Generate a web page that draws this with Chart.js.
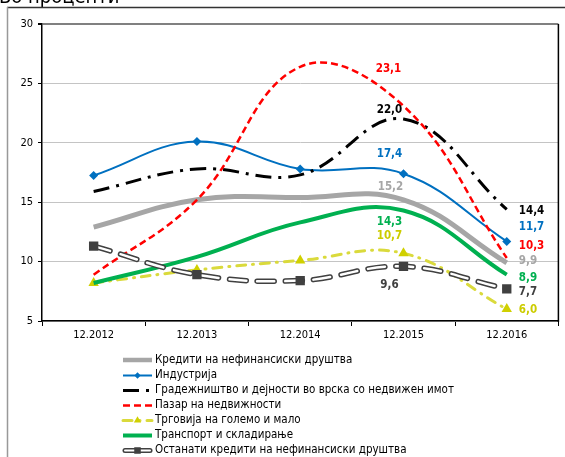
<!DOCTYPE html>
<html>
<head>
<meta charset="utf-8">
<script src="https://cdn.jsdelivr.net/npm/chart.js@4/dist/chart.umd.min.js"></script>
<style>
html,body{margin:0;padding:0;background:#fff;}
#c{display:block;}
</style>
</head>
<body>
<canvas id="c" width="565" height="457"></canvas>
<script>
// ---- data ----
const categories = ['12.2012', '12.2013', '12.2014', '12.2015', '12.2016'];
const seriesNames = [
  'Кредити на нефинансиски друштва',
  'Индустрија',
  'Градежништво и дејности во врска со недвижен имот',
  'Пазар на недвижности',
  'Трговија на големо и мало',
  'Транспорт и складирање',
  'Останати кредити на нефинансиски друштва'
];
const kreditiNefin = [12.9, 15.2, 15.4, 15.2, 9.9];
const industrija = [17.25, 20.1, 17.8, 17.4, 11.7];
const gradeznistvo = [15.9, 17.8, 17.3, 22.0, 14.4];
const pazar = [8.9, 15.2, 26.4, 23.1, 10.3];
const trgovija = [8.2, 9.3, 10.1, 10.7, 6.0];
const transport = [8.2, 10.4, 13.3, 14.3, 8.9];
const ostanati = [11.3, 8.9, 8.4, 9.6, 7.7];
const yMin = 5, yMax = 30, yStep = 5;
const titleText = 'Во проценти';

const FONT = "'DejaVu Sans Condensed', 'DejaVu Sans', sans-serif";

// styles
const styles = [
  {color:'#a6a6a6', width:5, dash:[], cap:'butt', point:false, labelColor:'#a6a6a6'},
  {color:'#0070c0', width:2, dash:[], cap:'butt', point:'rectRot', pr:4.5, pc:'#0070c0', labelColor:'#0070c0'},
  {color:'#000000', width:3, dash:[16,7,3,7], cap:'butt', point:false, labelColor:'#000000'},
  {color:'#ff0000', width:2.5, dash:[7,4], cap:'butt', point:false, labelColor:'#ff0000'},
  {color:'#dada3c', width:3, dash:[9,7,1,7], cap:'round', point:'triangle', pr:6, pc:'#d0d000', labelColor:'#cccc00'},
  {color:'#00b050', width:4, dash:[], cap:'butt', point:false, labelColor:'#00b050'},
  {color:'#404040', width:5.5, dash:[17,11], cap:'round', point:'rect', pr:6.6, pc:'#404040', labelColor:'#404040', doubled:true}
];
const seriesData = [kreditiNefin, industrija, gradeznistvo, pazar, trgovija, transport, ostanati];

// label offsets (index 3 = 2015 centered; index 4 = 2016 left aligned)
const labelOffsets = [
  {i3:[-13,-13], i4:[12,-2]},
  {i3:[-14,-20], i4:[12,-14]},
  {i3:[-14,-9],  i4:[12,2]},
  {i3:[-15,-37], i4:[12,-12]},
  {i3:[-14,-17], i4:[12,1]},
  {i3:[-14,11],  i4:[12,3]},
  {i3:[-14,19],  i4:[12,3.5]}
];

const datasets = [];
seriesData.forEach((d, i) => {
  const s = styles[i];
  if (s.doubled) {
    datasets.push({
      label: seriesNames[i] + ' (outline)', data: d, borderColor: s.color, borderWidth: s.width,
      borderDash: s.dash, borderCapStyle: s.cap, pointRadius: 0, tension: 0.4, fill: false,
      order: 20 - 2*i, seriesIndex: i, outline: true
    });
    datasets.push({
      label: seriesNames[i], data: d, borderColor: '#ffffff', borderWidth: 2.5,
      borderDash: s.dash, borderCapStyle: s.cap, pointStyle: s.point, pointRadius: s.pr,
      pointBackgroundColor: s.pc, pointBorderColor: s.pc, pointBorderWidth: 0,
      tension: 0.4, fill: false, order: 19 - 2*i, seriesIndex: i, labelled: true
    });
  } else {
    datasets.push({
      label: seriesNames[i], data: d, borderColor: s.color, borderWidth: s.width,
      borderDash: s.dash, borderCapStyle: s.cap,
      pointStyle: s.point || 'circle', pointRadius: s.point ? s.pr : 0,
      pointBackgroundColor: s.pc || s.color, pointBorderColor: s.pc || s.color, pointBorderWidth: 0,
      tension: 0.4, fill: false, order: 20 - 2*i, seriesIndex: i, labelled: true
    });
  }
});

const fmt = v => v.toFixed(1).replace('.', ',');

const decorPlugin = {
  id: 'decor',
  beforeDraw(chart) {
    const ctx = chart.ctx;
    ctx.save();
    ctx.fillStyle = '#fff';
    ctx.fillRect(0, 0, chart.width, chart.height);
    // cropped title
    ctx.fillStyle = '#000';
    ctx.font = '20px ' + FONT;
    ctx.textBaseline = 'alphabetic';
    ctx.textAlign = 'left';
    ctx.fillText(titleText, -1, 3);
    // outer frame
    ctx.strokeStyle = '#333';
    ctx.lineWidth = 1.5;
    ctx.beginPath(); ctx.moveTo(7, 7.5); ctx.lineTo(565, 7.5); ctx.stroke();
    ctx.strokeStyle = '#999';
    ctx.beginPath(); ctx.moveTo(7.5, 7); ctx.lineTo(7.5, 457); ctx.stroke();
    ctx.restore();
  },
  afterDraw(chart) {
    const ctx = chart.ctx;
    const a = chart.chartArea;
    ctx.save();
    ctx.strokeStyle = '#000';
    ctx.lineWidth = 1.5;
    ctx.beginPath(); ctx.moveTo(a.right, a.top); ctx.lineTo(a.right, a.bottom + 1); ctx.stroke();
    // data labels
    ctx.font = 'bold 11.5px ' + FONT;
    ctx.textBaseline = 'middle';
    chart.data.datasets.forEach((ds, di) => {
      if (!ds.labelled) return;
      const si = ds.seriesIndex;
      const meta = chart.getDatasetMeta(di);
      ctx.fillStyle = styles[si].labelColor;
      const p3 = meta.data[3], p4 = meta.data[4];
      const o = labelOffsets[si];
      ctx.textAlign = 'center';
      ctx.fillText(fmt(ds.data[3]), p3.x + o.i3[0], p3.y + o.i3[1]);
      ctx.textAlign = 'left';
      ctx.fillText(fmt(ds.data[4]), p4.x + o.i4[0], p4.y + o.i4[1]);
    });
    // legend
    const rowY = [360, 375.5, 390.5, 405.5, 420.5, 435.5, 450.5];
    const x0 = 123, x1 = 152, xm = 137.5;
    ctx.font = '11.5px ' + FONT;
    ctx.textAlign = 'left';
    ctx.textBaseline = 'middle';
    styles.forEach((s, i) => {
      const y = rowY[i];
      ctx.save();
      if (s.doubled) {
        ctx.lineCap = 'round';
        ctx.strokeStyle = s.color; ctx.lineWidth = 5;
        ctx.beginPath(); ctx.moveTo(x0 + 2, y); ctx.lineTo(x1 - 2, y); ctx.stroke();
        ctx.strokeStyle = '#fff'; ctx.lineWidth = 2;
        ctx.beginPath(); ctx.moveTo(x0 + 2, y); ctx.lineTo(x1 - 2, y); ctx.stroke();
      } else {
        ctx.lineCap = s.cap;
        ctx.setLineDash(s.dash);
        ctx.strokeStyle = s.color;
        ctx.lineWidth = Math.min(s.width, 4.5);
        ctx.beginPath(); ctx.moveTo(x0, y); ctx.lineTo(x1, y); ctx.stroke();
      }
      ctx.setLineDash([]);
      if (s.point) {
        ctx.fillStyle = s.pc; ctx.strokeStyle = s.pc; ctx.lineWidth = 0.01;
        Chart.helpers.drawPoint(ctx, {pointStyle: s.point, radius: s.pr * 0.7, rotation: 0, borderWidth: 0}, xm, y);
      }
      ctx.restore();
      ctx.fillStyle = '#000';
      ctx.fillText(seriesNames[i], 155, y);
    });
    ctx.restore();
  }
};

new Chart(document.getElementById('c'), {
  type: 'line',
  data: { labels: categories, datasets: datasets },
  options: {
    responsive: false,
    animation: false,
    layout: { padding: { left: 0, top: 24, right: 4, bottom: 106 } },
    plugins: { legend: { display: false }, tooltip: { enabled: false } },
    scales: {
      x: {
        offset: true,
        afterFit: s => { s.height = 30; },
        grid: { offset: true, drawOnChartArea: false, drawTicks: true, tickLength: 5, tickColor: '#000', lineWidth: 1 },
        border: { color: '#000', width: 1.5 },
        ticks: { color: '#000', font: { family: FONT, size: 11 }, padding: 3, maxRotation: 0 }
      },
      y: {
        min: yMin, max: yMax,
        afterFit: s => { s.width = 42; },
        ticks: { stepSize: yStep, color: '#000', font: { family: FONT, size: 11 }, padding: 5 },
        grid: {
          color: c => (c.tick && c.tick.value === yMax) ? '#808080' : '#c4c4c4',
          lineWidth: c => (c.tick && c.tick.value === yMax) ? 2 : 1,
          tickColor: '#000', tickLength: 4
        },
        border: { color: '#000', width: 1.5 }
      }
    }
  },
  plugins: [decorPlugin]
});
</script>
</body>
</html>
